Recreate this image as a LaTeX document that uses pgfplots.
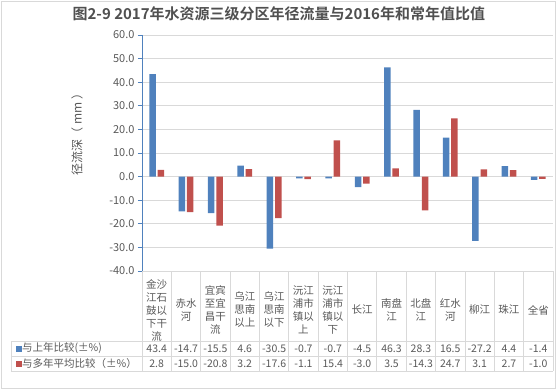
\documentclass[border=0pt]{standalone}
\usepackage{fontspec}
\setmainfont{Noto Sans CJK SC}[BoldFont={Noto Sans CJK SC Bold}]
\usepackage{pgfplots}
\pgfplotsset{compat=1.18}
\definecolor{sblue}{HTML}{4F81BD}
\definecolor{sred}{HTML}{C0504D}
\definecolor{txt}{HTML}{595959}
\definecolor{gridc}{HTML}{D9D9D9}
\pgfplotstableread{
x a b
0 43.4 2.8
1 -14.7 -15.0
2 -15.5 -20.8
3 4.6 3.2
4 -30.5 -17.6
5 -0.7 -1.1
6 -0.7 15.4
7 -4.5 -3.0
8 46.3 3.5
9 28.3 -14.3
10 16.5 24.7
11 -27.2 3.1
12 4.4 2.7
13 -1.4 -1.0
}\datatable
\begin{document}
\begin{tikzpicture}[x=1pt,y=1pt]
\useasboundingbox (-142,-120) rectangle (415,271);
\draw[gridc, line width=0.8pt] (-141,270) rectangle (413,-117);
\begin{axis}[
  at={(0,0)}, anchor=south west, scale only axis,
  width=411pt, height=236pt,
  ymin=-40, ymax=60, ytick={-40,-30,...,60},
  xmin=-0.5, xmax=13.5,
  ybar=1.8pt, bar width=6.5pt,
  axis lines*=left,
  x axis line style={draw=none},
  y axis line style={sblue, line width=0.8pt},
  ytick style={sblue, line width=0.8pt},
  tick align=outside, major tick length=4pt,
  xtick={0,...,13},
  xtick style={draw=none},
  xticklabels={{金沙\\江石\\鼓以\\下干\\流},{赤水\\河},{宜宾\\至宜\\昌干\\流},{乌江\\思南\\以上},{乌江\\思南\\以下},{沅江\\浦市\\镇以\\上},{沅江\\浦市\\镇以\\下},{长江},{南盘\\江},{北盘\\江},{红水\\河},{柳江},{珠江},{全省}},
  xticklabel style={anchor=center, yshift=-35pt, align=center, text=txt, font=\fontsize{10.5}{13}\selectfont},
  yticklabel style={text=txt, font=\fontsize{11}{12}\selectfont},
  /pgf/number format/assume math mode=true,
  /pgf/number format/fixed, /pgf/number format/fixed zerofill, /pgf/number format/precision=1,
  ymajorgrids, grid style={gridc, line width=0.8pt},
  ylabel={径流深（ mm ）},
  ylabel style={at={(axis description cs:-0.158,0.59)}, anchor=center, text=txt, font=\fontsize{12}{13}\selectfont},
  title={\bfseries 图2-9 2017年水资源三级分区年径流量与2016年和常年值比值},
  title style={at={(axis description cs:0.333,1.064)}, anchor=center, text=txt!90!black, font=\fontsize{15}{18}\selectfont},
]
\addplot[fill=sblue, draw=none] table[x=x, y=a] {\datatable};
\addplot[fill=sred, draw=none] table[x=x, y=b] {\datatable};
\end{axis}
% table grid
\foreach \i in {0,...,14} {
  \draw[gridc, line width=0.8pt] ({\i*29.357},0) -- ({\i*29.357},-100);
}
\draw[gridc, line width=0.8pt] (-131,-70) -- (411,-70);
\draw[gridc, line width=0.8pt] (-131,-85) -- (411,-85);
\draw[gridc, line width=0.8pt] (-131,-100) -- (411,-100);
\draw[gridc, line width=0.8pt] (-131,-70) -- (-131,-100);
\fill[sblue] (-126,-80.5) rectangle (-120,-74.5);
\fill[sred] (-126,-95.5) rectangle (-120,-89.5);
\node[anchor=west, text=txt, font=\fontsize{10.5}{12}\selectfont, inner sep=0pt] at (-120,-77.5) {与上年比较(±\%)};
\node[anchor=west, text=txt, font=\fontsize{10.5}{12}\selectfont, inner sep=0pt] at (-120,-92.5) {与多年平均比较（±\%）};
\foreach \v [count=\i from 0] in {43.4,-14.7,-15.5,4.6,-30.5,-0.7,-0.7,-4.5,46.3,28.3,16.5,-27.2,4.4,-1.4} {
  \node[text=txt, font=\fontsize{10.5}{12}\selectfont, inner sep=0pt] at ({\i*29.357+14.68},-77.5) {\v};
}
\foreach \v [count=\i from 0] in {2.8,-15.0,-20.8,3.2,-17.6,-1.1,15.4,-3.0,3.5,-14.3,24.7,3.1,2.7,-1.0} {
  \node[text=txt, font=\fontsize{10.5}{12}\selectfont, inner sep=0pt] at ({\i*29.357+14.68},-92.5) {\v};
}
\end{tikzpicture}
\end{document}
